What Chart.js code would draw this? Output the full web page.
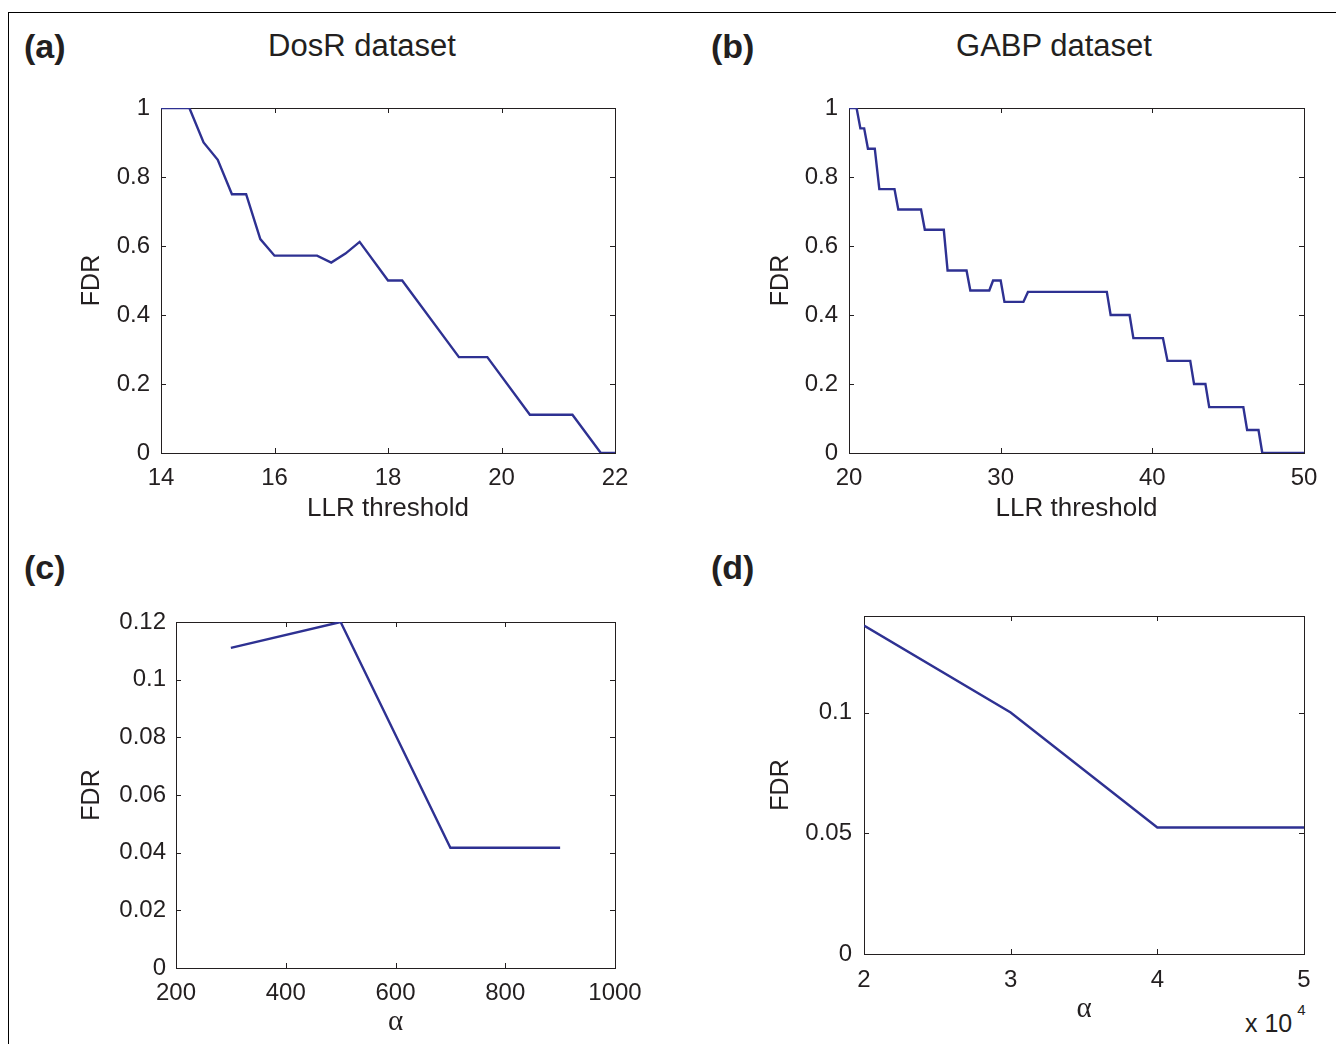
<!DOCTYPE html>
<html>
<head>
<meta charset="utf-8">
<script src="https://cdn.jsdelivr.net/npm/chart.js@4.4.1/dist/chart.umd.min.js"></script>
<style>
  html, body { margin: 0; padding: 0; background: #fff; }
  body { width: 1336px; height: 1044px; position: relative; overflow: hidden;
         font-family: "Liberation Sans", Arial, Helvetica, sans-serif; color: #231f20; }
  .frame { position: absolute; left: 8px; top: 12px; width: 1400px; height: 1100px;
           border-top: 1px solid #000; border-left: 1px solid #000; }
  canvas { position: absolute; }
  .tag { position: absolute; font-weight: bold; font-size: 34px; line-height: 1; transform: translate(0, -50%); }
  .ttl { position: absolute; font-size: 31px; line-height: 1; white-space: nowrap; transform: translate(-50%, -50%); }
  .mult { position: absolute; font-size: 25px; line-height: 1; white-space: nowrap; transform: translate(0, -50%); }
  .mult sup { font-size: 15px; position: relative; top: -8px; margin-left: 5px; }
</style>
</head>
<body>
<div class="frame"></div>

<div class="tag" style="left:24px; top:46px;">(a)</div>
<div class="ttl" style="left:362px; top:45px;">DosR dataset</div>
<div class="tag" style="left:711px; top:46px;">(b)</div>
<div class="ttl" style="left:1054px; top:45px;">GABP dataset</div>
<div class="tag" style="left:24px; top:567px;">(c)</div>
<div class="tag" style="left:711px; top:567px;">(d)</div>
<div class="mult" style="left:1245px; top:1023px;">x 10<sup>4</sup></div>

<canvas id="chartA" width="605" height="448" style="left:50px; top:80px;"></canvas>
<canvas id="chartB" width="605" height="448" style="left:739px; top:80px;"></canvas>
<canvas id="chartC" width="605" height="444" style="left:50px; top:594px;"></canvas>
<canvas id="chartD" width="605" height="437" style="left:739px; top:588px;"></canvas>

<script>
// (a) DosR dataset: FDR vs LLR threshold
const dosrThreshold = [14, 14.5, 14.75, 15, 15.25, 15.5, 15.75, 16, 16.75, 17, 17.25, 17.5,
  18, 18.25, 19.25, 19.75, 20.5, 21.25, 21.75, 22];
const dosrFdr = [1, 1, 0.9, 0.85, 0.75, 0.75, 0.62, 0.572, 0.572, 0.552, 0.578, 0.612,
  0.5, 0.5, 0.278, 0.278, 0.111, 0.111, 0, 0];

// (b) GABP dataset: FDR vs LLR threshold
const gabpThreshold = [20, 20.5, 20.75, 21, 21.25, 21.7, 22, 23, 23.25, 24.75, 25, 26.25, 26.5,
  27.75, 28, 29.25, 29.5, 30, 30.25, 31.5, 31.8, 37, 37.25, 38.5, 38.75, 40.7, 41, 42.5, 42.75,
  43.5, 43.75, 46, 46.25, 47, 47.25, 50];
const gabpFdr = [1, 1, 0.941, 0.941, 0.882, 0.882, 0.765, 0.765, 0.706, 0.706, 0.647, 0.647, 0.529,
  0.529, 0.471, 0.471, 0.5, 0.5, 0.438, 0.438, 0.467, 0.467, 0.4, 0.4, 0.333, 0.333, 0.267, 0.267,
  0.2, 0.2, 0.133, 0.133, 0.0667, 0.0667, 0, 0];

// (c) FDR vs alpha
const alphaC = [300, 500, 700, 900];
const fdrC = [0.111, 0.12, 0.0417, 0.0417];

// (d) FDR vs alpha (x 10^4)
const alphaD = [20000, 30000, 40000, 50000];
const fdrD = [0.136, 0.1, 0.0524, 0.0524];

const LINE = "#2e3192";
const INK = "#231f20";
const SANS = "'Liberation Sans', Arial, Helvetica, sans-serif";
const SERIF = "'Liberation Serif', 'Times New Roman', serif";

const fmt = (v) => String(Math.round(v * 10000) / 10000);

// matlab style box with inward tick marks on all four sides
const boxTicks = {
  id: "boxTicks",
  beforeDatasetsDraw(chart) {
    const { ctx, chartArea: a, scales } = chart;
    const len = 5;
    ctx.save();
    ctx.strokeStyle = INK;
    ctx.lineWidth = 1;
    ctx.strokeRect(Math.round(a.left) + 0.5, Math.round(a.top) + 0.5,
      Math.round(a.width), Math.round(a.height));
    ctx.beginPath();
    scales.x.ticks.forEach((t, i) => {
      const px = Math.round(scales.x.getPixelForTick(i)) + 0.5;
      ctx.moveTo(px, a.bottom); ctx.lineTo(px, a.bottom - len);
      ctx.moveTo(px, a.top); ctx.lineTo(px, a.top + len);
    });
    scales.y.ticks.forEach((t, i) => {
      const py = Math.round(scales.y.getPixelForTick(i)) + 0.5;
      ctx.moveTo(a.left, py); ctx.lineTo(a.left + len, py);
      ctx.moveTo(a.right, py); ctx.lineTo(a.right - len, py);
    });
    ctx.stroke();
    ctx.restore();
  }
};

function makePanel(id, xs, ys, o) {
  return new Chart(document.getElementById(id), {
    type: "scatter",
    data: {
      datasets: [{
        data: xs.map((x, i) => ({ x: x, y: ys[i] })),
        showLine: true,
        borderColor: LINE,
        borderWidth: 2.4,
        pointRadius: 0,
        tension: 0,
        fill: false
      }]
    },
    options: {
      responsive: false,
      animation: false,
      events: [],
      layout: { padding: { top: 28, right: 40, left: 0, bottom: 0 } },
      plugins: { legend: { display: false }, tooltip: { enabled: false } },
      scales: {
        x: {
          type: "linear",
          min: o.xMin, max: o.xMax,
          grid: { display: false, drawTicks: false },
          border: { display: false },
          ticks: {
            stepSize: o.xStep, includeBounds: false, autoSkip: false, maxRotation: 0,
            padding: o.xPad, color: INK, font: { family: SANS, size: 24 },
            callback: o.xFmt || fmt
          },
          title: {
            display: true, text: o.xTitle, color: INK,
            font: { family: o.xTitleFont || SANS, size: o.xTitleSize || 26 },
            padding: { top: 0, bottom: o.xTitlePad }
          },
          afterFit: (s) => { s.height = o.xh; }
        },
        y: {
          type: "linear",
          min: o.yMin, max: o.yMax,
          grid: { display: false, drawTicks: false },
          border: { display: false },
          ticks: {
            stepSize: o.yStep, includeBounds: false, autoSkip: false,
            padding: o.yPad, color: INK, font: { family: SANS, size: 24 },
            callback: fmt
          },
          title: {
            display: true, text: "FDR", color: INK,
            font: { family: SANS, size: 25 },
            padding: { top: 27, bottom: 0 }
          },
          afterFit: (s) => { s.width = o.ya; }
        }
      }
    },
    plugins: [boxTicks]
  });
}

makePanel("chartA", dosrThreshold, dosrFdr, {
  xMin: 14, xMax: 22, xStep: 2, yMin: 0, yMax: 1, yStep: 0.2,
  xTitle: "LLR threshold", xTitlePad: 4, xh: 75, ya: 111, xPad: 11, yPad: 11
});

makePanel("chartB", gabpThreshold, gabpFdr, {
  xMin: 20, xMax: 50, xStep: 10, yMin: 0, yMax: 1, yStep: 0.2,
  xTitle: "LLR threshold", xTitlePad: 4, xh: 75, ya: 110, xPad: 11, yPad: 11
});

makePanel("chartC", alphaC, fdrC, {
  xMin: 200, xMax: 1000, xStep: 200, yMin: 0, yMax: 0.12, yStep: 0.02,
  xTitle: "α", xTitleFont: SERIF, xTitleSize: 29,
  xTitlePad: -2, xh: 70, ya: 126, xPad: 11, yPad: 10
});

makePanel("chartD", alphaD, fdrD, {
  xMin: 20000, xMax: 50000, xStep: 10000, yMin: 0, yMax: 0.14, yStep: 0.05,
  xFmt: (v) => String(v / 10000),
  xTitle: "α", xTitleFont: SERIF, xTitleSize: 29,
  xTitlePad: -2, xh: 71, ya: 125, xPad: 12, yPad: 12
});
</script>
</body>
</html>
